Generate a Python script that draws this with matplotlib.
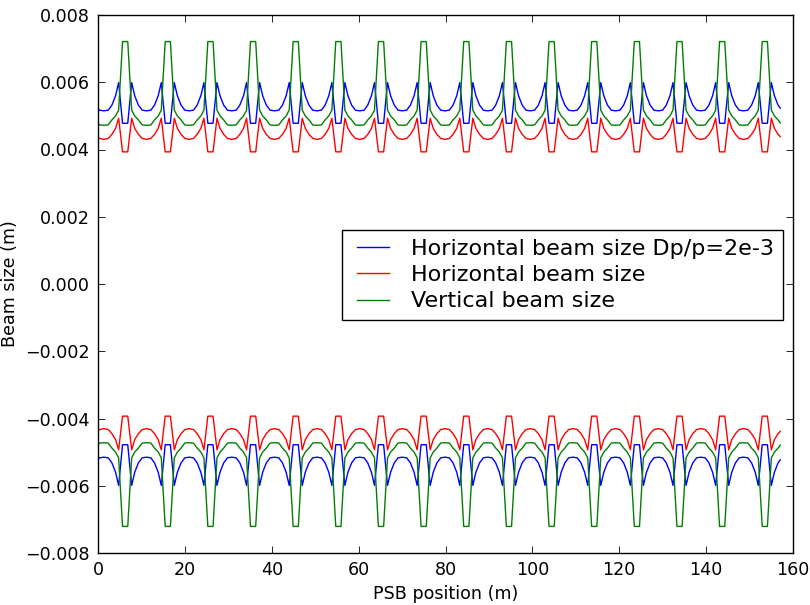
import numpy as np
import matplotlib
matplotlib.use("Agg")
import matplotlib.pyplot as plt

# ---- data (one lattice period; the ring has 16 identical periods) ----
n_periods = 16
period_length = 9.8175  # m  (157.08 m / 16)

# sample positions within one period (m)
s_period = [0.0, 0.35, 1.34, 2.35, 3.2, 4.05, 4.75, 5.65, 6.85, 7.75, 8.45, 9.3, 9.8175]

# beam-size envelopes (m)
blue_dp = [5.23e-3, 5.17e-3, 5.15e-3, 5.17e-3, 5.32e-3, 5.60e-3, 5.99e-3,
           4.78e-3, 4.78e-3, 5.99e-3, 5.60e-3, 5.32e-3, 5.23e-3]
red_h = [4.38e-3, 4.33e-3, 4.30e-3, 4.33e-3, 4.45e-3, 4.63e-3, 4.93e-3,
         3.93e-3, 3.93e-3, 4.93e-3, 4.63e-3, 4.45e-3, 4.38e-3]
green_v = [4.79e-3, 4.73e-3, 4.72e-3, 4.73e-3, 4.88e-3, 5.00e-3, 5.17e-3,
           7.21e-3, 7.21e-3, 5.17e-3, 5.00e-3, 4.88e-3, 4.79e-3]

labels = ["Horizontal beam size Dp/p=2e-3", "Horizontal beam size", "Vertical beam size"]
colors = ["#0000ff", "#ff0000", "#008000"]
x_ticks = [0, 20, 40, 60, 80, 100, 120, 140, 160]
y_ticks = [-0.008, -0.006, -0.004, -0.002, 0.0, 0.002, 0.004, 0.006, 0.008]


def ring(vals):
    """Repeat the per-period samples around the 16 identical periods."""
    s_all, v_all = [], []
    for k in range(n_periods):
        start = 0 if k == 0 else 1
        s_all.extend([k * period_length + s for s in s_period[start:]])
        v_all.extend(vals[start:])
    return np.array(s_all), np.array(v_all)


fig = plt.figure(figsize=(8.1, 6.05), dpi=100)
fig.patch.set_facecolor("white")
ax = fig.add_axes([98 / 810, 1 - 553 / 605, (793 - 98) / 810, (553 - 15) / 605])

handles = []
for vals, col, lab in zip([blue_dp, red_h, green_v], colors, labels):
    s, v = ring(vals)
    h, = ax.plot(s, v, color=col, lw=1.0, label=lab)
    ax.plot(s, -v, color=col, lw=1.0)
    handles.append(h)

ax.set_xlim(0, 160)
ax.set_ylim(-0.008, 0.008)
ax.set_xticks(x_ticks)
ax.set_yticks(y_ticks)
ax.set_yticklabels([("\u2212%.3f" % -t) if t < 0 else "%.3f" % t for t in y_ticks])

ax.tick_params(direction="in", top=True, right=True, length=5, width=0.6,
               labelsize=12.6, pad=6)
for sp in ax.spines.values():
    sp.set_linewidth(1.0)
    sp.set_color("black")

ax.set_xlabel("PSB position (m)", fontsize=12.6, labelpad=4)
ax.set_ylabel("Beam size (m)", fontsize=12.6)
ax.yaxis.set_label_coords((19.0 - 98) / 695, 0.5)

leg = ax.legend(handles=handles, loc="upper right",
                bbox_to_anchor=((782.7 - 98) / 695, (553 - 230) / 538),
                borderaxespad=0, fontsize=16, numpoints=2, handlelength=2.0,
                handletextpad=0.7, borderpad=0.4, labelspacing=0.28,
                fancybox=False, shadow=False, framealpha=1)
leg.get_frame().set_edgecolor("black")
leg.get_frame().set_linewidth(1.0)

fig.savefig("out.png", dpi=100, facecolor="white")
